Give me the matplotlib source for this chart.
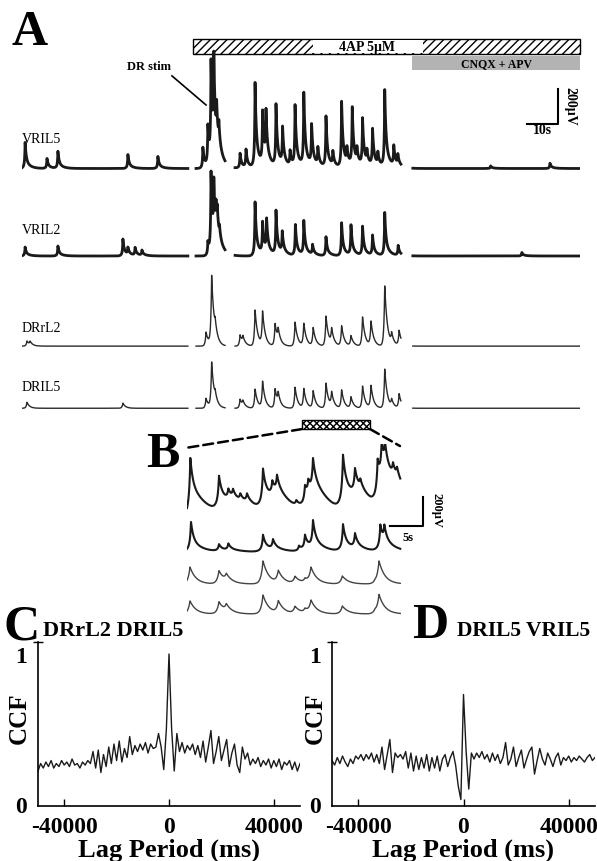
import numpy as np
import matplotlib
matplotlib.use("Agg")
import matplotlib.pyplot as plt
from matplotlib.patches import Rectangle, ConnectionPatch

plt.rcParams['font.family'] = ['Liberation Serif', 'DejaVu Serif']
plt.rcParams['axes.unicode_minus'] = False
plt.rcParams['hatch.linewidth'] = 1.0

W, H = 597, 862

# ---- Panel A : extracellular root recordings (s, uV) ----
channels = ['VRIL5', 'VRIL2', 'DRrL2', 'DRIL5']
baselines = [1500, 1000, 485, 130]
segments = [(0, 53.1), (55.7, 65.0), (68.2, 121.3), (125.1, 178.6)]

# event times (s) and peak amplitudes (uV) per channel
vril5_t = [1.0, 8.0, 11.5, 33.9, 43.5,
           57.9, 59.5, 60.5, 61.4, 62.3, 63.0,
           69.8, 71.7, 74.6, 77.0, 78.1, 81.3, 83.4, 85.8, 87.4, 90.2, 92.7, 94.7,
           97.3, 99.5, 102.3, 104.0, 105.7, 107.2, 109.0, 110.4, 112.2, 113.9,
           116.1, 119.0, 120.3,
           150.0, 169.0]
vril5_a = [149, 57, 97, 80, 69,
           120, 223, 554, 509, 200, 120,
           86, 103, 486, 297, 274, 354, 211, 86, 349, 417, 229, 100,
           291, 80, 377, 86, 331, 80, 269, 70, 211, 70,
           440, 114, 60,
           15, 30]

vril2_t = [1.0, 11.5, 32.3, 33.9, 36.2, 38.4,
           59.5, 60.5, 61.4, 62.1, 62.5, 63.2,
           74.6, 77.0, 78.3, 81.3, 83.3, 87.5, 90.2, 93.0, 97.3, 102.3, 105.3,
           109.0, 112.2, 116.1, 120.4,
           160.0]
vril2_a = [51, 57, 97, 40, 45, 30,
           74, 457, 326, 150, 120, 60,
           309, 177, 183, 251, 120, 177, 194, 57, 109, 189, 171,
           166, 114, 246, 57,
           20]

drrl2_t = [1.6, 2.6,
           58.9, 60.7, 61.8,
           69.8, 70.7, 74.6, 77.0, 81.0, 82.0, 87.4, 90.2, 93.2, 97.3, 99.1,
           102.3, 105.3, 109.0, 111.7, 116.1, 118.3, 120.7]
drrl2_a = [29, 20,
           80, 394, 60,
           63, 40, 206, 189, 126, 69, 137, 126, 103, 171, 86,
           114, 57, 166, 137, 343, 57, 86]

dril5_t = [1.6, 32.3,
           58.9, 60.7, 61.8,
           69.8, 70.7, 74.6, 77.0, 81.0, 82.0, 87.4, 90.2, 93.2, 97.3, 99.1,
           102.3, 105.3, 109.0, 111.7, 116.1, 118.3, 120.7]
dril5_a = [34, 29,
           57, 257, 40,
           51, 30, 109, 149, 109, 63, 120, 109, 97, 143, 80,
           103, 63, 126, 126, 223, 40, 80]

# ---- Panel B : expanded 4AP bursts (s, uV) ----
b_baselines = [725, 497, 276, 69]
b_span = (0, 32.0)
b1_t = [0.5, 4.8, 6.2, 6.9, 8.0, 9.0, 11.4, 12.8, 13.5, 16.4, 17.7, 18.2, 18.9,
        23.4, 25.2, 26.0, 28.6, 29.2, 29.7, 30.9, 31.5]
b1_a = [421, 242, 80, 70, 55, 70, 283, 110, 138, 40, 138, 110, 262,
        380, 193, 70, 276, 270, 190, 100, 80]
b2_t = [0.6, 4.8, 6.2, 11.4, 12.9, 16.8, 17.7, 18.9, 23.4, 25.2, 29.0, 29.6]
b2_a = [207, 48, 48, 117, 69, 35, 103, 193, 186, 103, 172, 117]
b3_t = [0.45, 4.8, 5.9, 11.4, 13.7, 16.2, 17.7, 18.6, 23.3, 28.2, 28.8]
b3_a = [117, 90, 48, 159, 83, 48, 28, 103, 55, 14, 152]
b4_t = [0.45, 4.8, 5.9, 11.4, 13.7, 16.2, 17.7, 18.6, 23.3, 28.2, 28.8]
b4_a = [90, 83, 48, 131, 83, 48, 28, 83, 55, 21, 124]

# ---- Panels C, D : cross-correlation functions ----
lags = np.arange(-50000, 50001, 1000)
ccf_c = [0.22, 0.27, 0.24, 0.28, 0.25, 0.29, 0.24, 0.27, 0.25, 0.29,
         0.26, 0.28, 0.25, 0.30, 0.26, 0.27, 0.24, 0.28, 0.26, 0.29,
         0.27, 0.35, 0.24, 0.36, 0.21, 0.33, 0.25, 0.38, 0.27, 0.40,
         0.29, 0.42, 0.28, 0.37, 0.31, 0.45, 0.33, 0.39, 0.35, 0.40,
         0.36, 0.41, 0.34, 0.40, 0.37, 0.38, 0.47, 0.38, 0.23, 0.50,
         1.00,
         0.50, 0.22, 0.47, 0.35, 0.41, 0.34, 0.39, 0.36, 0.40, 0.33,
         0.39, 0.31, 0.42, 0.28, 0.38, 0.49, 0.27, 0.35, 0.45, 0.29,
         0.36, 0.43, 0.25, 0.34, 0.40, 0.26, 0.21, 0.38, 0.30, 0.34,
         0.26, 0.30, 0.27, 0.31, 0.25, 0.29, 0.26, 0.30, 0.24, 0.29,
         0.25, 0.30, 0.23, 0.28, 0.26, 0.29, 0.23, 0.28, 0.22, 0.27]
ccf_d = [0.29, 0.26, 0.31, 0.27, 0.32, 0.28, 0.25, 0.30, 0.27, 0.32,
         0.30, 0.33, 0.29, 0.33, 0.30, 0.34, 0.28, 0.33, 0.27, 0.38,
         0.23, 0.33, 0.43, 0.21, 0.34, 0.31, 0.33, 0.30, 0.35, 0.24,
         0.34, 0.22, 0.32, 0.23, 0.31, 0.24, 0.33, 0.22, 0.31, 0.24,
         0.32, 0.22, 0.30, 0.33, 0.25, 0.31, 0.35, 0.26, 0.12, 0.03,
         0.73,
         0.35, 0.10, 0.34, 0.30, 0.34, 0.31, 0.35, 0.30, 0.33, 0.28,
         0.34, 0.29, 0.33, 0.27, 0.31, 0.41, 0.26, 0.30, 0.38, 0.25,
         0.31, 0.36, 0.24, 0.30, 0.35, 0.38, 0.20, 0.29, 0.37, 0.30,
         0.26, 0.34, 0.30, 0.25, 0.31, 0.34, 0.26, 0.31, 0.29, 0.32,
         0.28, 0.31, 0.29, 0.32, 0.30, 0.28, 0.31, 0.33, 0.29, 0.31]


def events(t, times, amps, rise, decay):
    y = np.zeros_like(t)
    for ti, a in zip(times, amps):
        s = t - ti
        y += a * np.where(s < 0, np.exp(np.minimum(s, 0) / rise),
                          np.exp(-np.maximum(s, 0) / decay))
    return y


def ventral(t, times, amps, slow=1.4, w=0.35):
    return ((1 - w) * events(t, times, amps, 0.12, 0.35)
            + w * events(t, times, amps, 0.4, slow))


def dorsal(t, times, amps):
    return events(t, times, amps, 0.28, 0.85)


def place(x0, y0, x1, y1):
    return [x0 / W, 1 - y1 / H, (x1 - x0) / W, (y1 - y0) / H]


fig = plt.figure(figsize=(W / 100, H / 100), dpi=100)

# ---------------- A ----------------
axA = fig.add_axes(place(22, 30, 580, 432))
axA.set_xlim(0, 178.6)
axA.set_ylim(0, 2297)
axA.axis('off')

trace_data = [(vril5_t, vril5_a, 'v'), (vril2_t, vril2_a, 'v'),
              (drrl2_t, drrl2_a, 'd'), (dril5_t, dril5_a, 'd')]
for (tt, aa, kind), base in zip(trace_data, baselines):
    for t0, t1 in segments:
        t = np.arange(t0, t1, 0.02)
        if kind == 'v':
            axA.plot(t, base + ventral(t, tt, aa), color='#1a1a1a', lw=2.0)
        else:
            axA.plot(t, base + dorsal(t, tt, aa), color='#2a2a2a', lw=1.0)

label_y = [1670, 1150, 590, 255]
for name, ly in zip(channels, label_y):
    axA.text(0, ly, name, fontsize=10, va='center', ha='left')

# drug application bars
axA.add_patch(Rectangle((54.7, 2154), 178.6 - 54.7, 86, facecolor='white',
                        edgecolor='black', hatch='////', lw=1, clip_on=False))
axA.add_patch(Rectangle((93.1, 2160), 35.2, 74, facecolor='white',
                        edgecolor='none', clip_on=False))
axA.text(110.5, 2197, '4AP 5μM', fontsize=10, fontweight='bold',
         ha='center', va='center')
axA.add_patch(Rectangle((124.8, 2063), 178.6 - 124.8, 80, facecolor='#b3b3b3',
                        edgecolor='none', clip_on=False))
axA.text(152, 2100, 'CNQX + APV', fontsize=8.5, fontweight='bold',
         ha='center', va='center')

# stimulus marker
axA.text(40.5, 2086, 'DR stim', fontsize=9, fontweight='bold',
         ha='center', va='center')
axA.plot([48.0, 58.9], [2029, 1863], color='black', lw=1.2)

# scale bar
axA.plot([161.5, 171.5, 171.5], [1754, 1754, 1954], color='black', lw=1.5)
axA.text(166.5, 1720, '10s', fontsize=10, fontweight='bold',
         ha='center', va='center')
axA.text(175.4, 1860, '200μV', fontsize=10, fontweight='bold',
         rotation=270, ha='center', va='center')

# expanded region marker
axA.add_patch(Rectangle((89.6, 11), 21.8, 52, facecolor='white',
                        edgecolor='black', hatch='xxxxx', lw=1, clip_on=False))

# ---------------- B ----------------
axB = fig.add_axes(place(187, 445, 440, 625))
axB.set_xlim(0, 37.95)
axB.set_ylim(0, 1242)
axB.axis('off')

tb = np.arange(b_span[0], b_span[1], 0.01)
b_traces = [(b1_t, b1_a), (b2_t, b2_a), (b3_t, b3_a), (b4_t, b4_a)]
for i, ((tt, aa), base) in enumerate(zip(b_traces, b_baselines)):
    if i == 0:
        y = ventral(tb, tt, aa, slow=2.8, w=0.6)
        axB.plot(tb, base + y, color='#1a1a1a', lw=1.5)
    elif i == 1:
        y = ventral(tb, tt, aa, slow=1.5, w=0.45)
        axB.plot(tb, base + y, color='#1a1a1a', lw=1.5)
    else:
        y = events(tb, tt, aa, 0.3, 0.9)
        axB.plot(tb, base + y, color='#444444', lw=1.0)

axB.plot([30.4, 35.4, 35.4], [676, 676, 876], color='black', lw=1.5)
axB.text(33.2, 600, '5s', fontsize=9, fontweight='bold', ha='center', va='center')
axB.text(37.4, 790, '200μV', fontsize=9, fontweight='bold',
         rotation=270, ha='center', va='center')

for xyA, xyB in [((89.6, 11), (-0.3, 1214)), ((111.4, 11), (31.95, 1228))]:
    con = ConnectionPatch(xyA=xyA, coordsA=axA.transData, xyB=xyB,
                          coordsB=axB.transData, color='black', lw=1.8,
                          linestyle=(0, (4, 2)))
    fig.add_artist(con)

# ---------------- C & D ----------------
def ccf_panel(rect, values):
    ax = fig.add_axes(rect)
    ax.plot(lags, values, color='#1a1a1a', lw=1.0)
    ax.set_xlim(-50000, 50000)
    ax.set_ylim(-0.013, 1.08)
    for side in ['top', 'right']:
        ax.spines[side].set_visible(False)
    for side in ['left', 'bottom']:
        ax.spines[side].set_linewidth(1.2)
    ax.set_xticks([-40000, 0, 40000])
    ax.set_yticks([0, 1])
    ax.set_yticks([1.08], minor=True)
    ax.tick_params(axis='x', direction='in', length=5, width=1, pad=7)
    ax.tick_params(axis='y', which='major', length=0, pad=8)
    ax.tick_params(axis='y', which='minor', direction='inout', length=7, width=1)
    ax.set_yticklabels(['0', '1'], minor=False)
    for lab in ax.get_xticklabels() + ax.get_yticklabels():
        lab.set_fontsize(17)
        lab.set_fontweight('bold')
    ax.set_xlabel('Lag Period (ms)', fontsize=19, fontweight='bold', va='center')
    ax.xaxis.set_label_coords(0.5, -0.265)
    ax.set_ylabel('CCF', fontsize=18, fontweight='bold', va='center')
    return ax


axC = ccf_panel(place(38, 643, 300, 807), ccf_c)
axC.yaxis.set_label_coords(-0.072, 0.54)
axD = ccf_panel(place(332, 643, 595, 807), ccf_d)
axD.yaxis.set_label_coords(-0.062, 0.54)

# panel letters and titles
def ftext(x, y, s, **kw):
    fig.text(x / W, 1 - y / H, s, **kw)

ftext(12, 45, 'A', fontsize=36, fontweight='bold', va='baseline')
ftext(146, 467, 'B', fontsize=36, fontweight='bold', va='baseline')
ftext(4, 640, 'C', fontsize=36, fontweight='bold', va='baseline')
ftext(412, 638, 'D', fontsize=36, fontweight='bold', va='baseline')
ftext(43, 636, 'DRrL2 DRIL5', fontsize=16, fontweight='bold', va='baseline')
ftext(457, 636, 'DRIL5 VRIL5', fontsize=15.5, fontweight='bold', va='baseline')

fig.savefig('out.png', dpi=100)
